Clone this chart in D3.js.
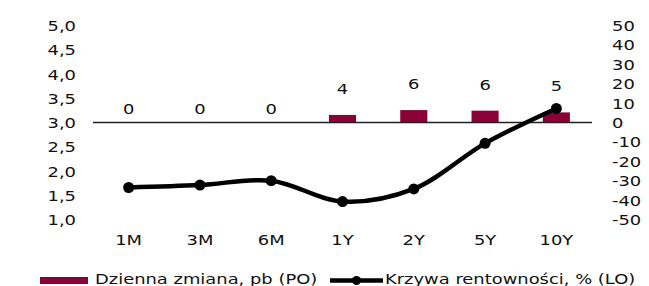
<!DOCTYPE html>
<html>
<head>
<meta charset="utf-8">
<script src="https://cdn.jsdelivr.net/npm/d3@7"></script>
<style>
  html, body { margin: 0; padding: 0; background: #fff; }
  svg text { font-family: Verdana, "DejaVu Sans", sans-serif; font-size: 14px; fill: #111; }
</style>
</head>
<body>
<div id="chart"></div>
<script>
'use strict';

// Chart data
const categories = ['1M', '3M', '6M', '1Y', '2Y', '5Y', '10Y'];
const dailyChange = [0, 0, 0, 3.9, 6.4, 6.1, 5.2];          // pb, right axis
const yieldCurve = [1.66, 1.71, 1.80, 1.37, 1.63, 2.57, 3.29]; // %, left axis
const leftTicks = [1, 1.5, 2, 2.5, 3, 3.5, 4, 4.5, 5];
const rightTicks = [-50, -40, -30, -20, -10, 0, 10, 20, 30, 40, 50];
const seriesNames = ['Dzienna zmiana, pb (PO)', 'Krzywa rentowności, % (LO)'];

const width = 649, height = 286;
const plot = { left: 93, right: 592, top: 25.5, bottom: 219.5 };
const barColor = '#8b0036';
const stretch = 1.28; // the reference text is drawn wide

const svg = d3.select('#chart').append('svg')
    .attr('width', width)
    .attr('height', height);

// Scales
const x = d3.scaleBand().domain(categories).range([plot.left, plot.right]);
const xBar = d3.scaleBand().domain(categories).range([plot.left, plot.right])
    .paddingInner(0.62).paddingOuter(0.31);
const yL = d3.scaleLinear().domain([1, 5]).range([plot.bottom, plot.top]);
const yR = d3.scaleLinear().domain([-50, 50]).range([plot.bottom, plot.top]);

const comma = d => d3.format('.1f')(d).replace('.', ',');

// Left axis
const leftAxis = svg.append('g')
    .attr('transform', 'translate(76,0)')
    .call(d3.axisLeft(yL).tickValues(leftTicks).tickFormat(comma).tickSize(0).tickPadding(0));

// Right axis
const rightAxis = svg.append('g')
    .attr('transform', 'translate(612,0)')
    .call(d3.axisRight(yR).tickValues(rightTicks).tickFormat(d => String(d)).tickSize(0).tickPadding(0));

// Category axis
const bottomAxis = svg.append('g')
    .attr('transform', 'translate(0,235)')
    .call(d3.axisBottom(x).tickSize(0).tickPadding(0));

[leftAxis, rightAxis, bottomAxis].forEach(g => {
    g.select('.domain').remove();
    g.attr('font-family', null).attr('font-size', null);
    g.selectAll('text')
        .attr('fill', null)
        .attr('transform', `scale(${stretch},1)`);
});
leftAxis.selectAll('text').attr('dy', '0.36em');
rightAxis.selectAll('text').attr('dy', '0.36em');

// Bars
svg.append('g').selectAll('rect')
    .data(categories.map((c, i) => ({ c, v: dailyChange[i] })))
    .join('rect')
    .attr('x', d => xBar(d.c))
    .attr('width', xBar.bandwidth())
    .attr('y', d => yR(Math.max(0, d.v)))
    .attr('height', d => Math.abs(yR(d.v) - yR(0)))
    .attr('fill', barColor);

// Zero line
svg.append('line')
    .attr('x1', plot.left).attr('x2', plot.right)
    .attr('y1', yR(0)).attr('y2', yR(0))
    .attr('stroke', '#222')
    .attr('stroke-width', 1.5);

// Bar labels
svg.append('g').selectAll('text')
    .data(categories.map((c, i) => ({ c, v: dailyChange[i] })))
    .join('text')
    .attr('text-anchor', 'middle')
    .attr('dy', '0.36em')
    .attr('transform', d => {
        let ly = d.v > 0 ? yR(d.v) - 26 : yR(0) - 14;
        return `translate(${x(d.c) + x.bandwidth() / 2},${ly}) scale(${stretch},1)`;
    })
    .text(d => d3.format('.0f')(d.v));

// Yield curve
const pts = categories.map((c, i) => [x(c) + x.bandwidth() / 2, yL(yieldCurve[i])]);

svg.append('path')
    .datum(pts)
    .attr('fill', 'none')
    .attr('stroke', '#000')
    .attr('stroke-width', 4.5)
    .attr('stroke-linejoin', 'round')
    .attr('d', d3.line().curve(d3.curveCatmullRom.alpha(0.5)));

svg.append('g').selectAll('circle')
    .data(pts)
    .join('circle')
    .attr('cx', d => d[0])
    .attr('cy', d => d[1])
    .attr('r', 5.5)
    .attr('fill', '#000');

// Legend
const legend = svg.append('g');
legend.append('rect')
    .attr('x', 40).attr('y', 277)
    .attr('width', 48).attr('height', 7)
    .attr('fill', barColor);
legend.append('text')
    .attr('transform', `translate(95,284) scale(${stretch},1)`)
    .text(seriesNames[0]);

legend.append('line')
    .attr('x1', 330).attr('x2', 383)
    .attr('y1', 280.5).attr('y2', 280.5)
    .attr('stroke', '#000')
    .attr('stroke-width', 4.5);
legend.append('circle')
    .attr('cx', 356.5).attr('cy', 280.5).attr('r', 4.5)
    .attr('fill', '#000');
legend.append('text')
    .attr('transform', `translate(385,284) scale(${stretch},1)`)
    .text(seriesNames[1]);
</script>
</body>
</html>
